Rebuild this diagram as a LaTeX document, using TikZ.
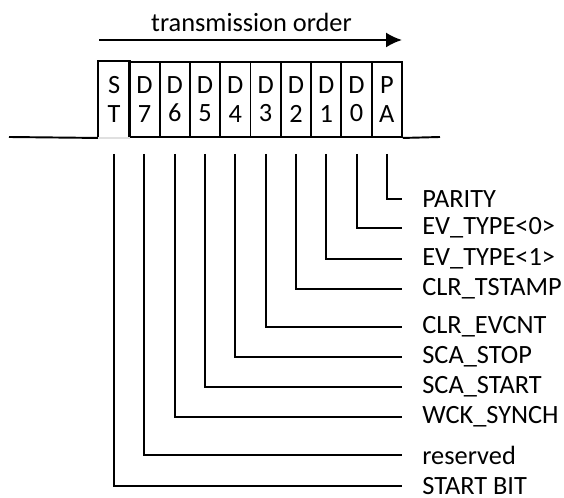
\documentclass[tikz,border=0pt]{standalone}
\usepackage{fontspec}
\setmainfont{Carlito}
\usetikzlibrary{arrows.meta}

\tikzset{
  bitbox/.style={draw, line width=1.1pt, minimum width=0.606cm, minimum height=1.5cm,
    inner sep=0pt, align=center, font=\fontsize{15}{16}\selectfont},
  bitlabel/.style={anchor=west, inner xsep=0.4cm, inner ysep=0pt, font=\fontsize{15}{16}\selectfont},
  wire/.style={line width=1.1pt}
}

\begin{document}
\begin{tikzpicture}
\useasboundingbox (0,0) rectangle (11.28,9.96);

% Transmission direction
\node[font=\fontsize{15}{16}\selectfont] (order) at (5.03,9.52) {transmission order};
\draw[wire, -{Latex[length=0.32cm,width=0.3cm]}] (1.98,9.16) -- (8.04,9.16);

% The frame: start bit, eight data bits and parity
\node[bitbox, draw=none] (st) at (2.283,7.97) {S\\T};
\node[bitbox] (d7) at (2.889,7.97) {D\\7};
\node[bitbox] (d6) at (3.495,7.97) {D\\6};
\node[bitbox] (d5) at (4.101,7.97) {D\\5};
\node[bitbox] (d4) at (4.707,7.97) {D\\4};
\node[bitbox] (d3) at (5.313,7.97) {D\\3};
\node[bitbox] (d2) at (5.919,7.97) {D\\2};
\node[bitbox] (d1) at (6.525,7.97) {D\\1};
\node[bitbox] (d0) at (7.131,7.97) {D\\0};
\node[bitbox] (pa) at (7.737,7.97) {P\\A};
\draw[wire] (st.south west) -- (st.north west) -- (st.north east) -- (st.south east);

% Line level before and after the frame
\draw[wire] (0.18,7.22) -- (st.south west);
\draw[line width=1.1pt, black!12] (st.south west) -- (st.south east);
\draw[wire] (pa.south east) -- (8.8,7.22);

% Bit meanings
\node[bitlabel] (parity) at (8.04,5.98) {PARITY};
\node[bitlabel] (evtype0) at (8.04,5.40) {EV\_TYPE<0>};
\node[bitlabel] (evtype1) at (8.04,4.78) {EV\_TYPE<1>};
\node[bitlabel] (clrtstamp) at (8.04,4.18) {CLR\_TSTAMP};
\node[bitlabel] (clrevcnt) at (8.04,3.42) {CLR\_EVCNT};
\node[bitlabel] (scastop) at (8.04,2.82) {SCA\_STOP};
\node[bitlabel] (scastart) at (8.04,2.22) {SCA\_START};
\node[bitlabel] (wcksynch) at (8.04,1.62) {WCK\_SYNCH};
\node[bitlabel] (reserved) at (8.04,0.86) {reserved};
\node[bitlabel] (startbit) at (8.04,0.24) {START BIT};

\draw[wire] ([yshift=-0.32cm]pa.south) |- (parity.west);
\draw[wire] ([yshift=-0.32cm]d0.south) |- (evtype0.west);
\draw[wire] ([yshift=-0.32cm]d1.south) |- (evtype1.west);
\draw[wire] ([yshift=-0.32cm]d2.south) |- (clrtstamp.west);
\draw[wire] ([yshift=-0.32cm]d3.south) |- (clrevcnt.west);
\draw[wire] ([yshift=-0.32cm]d4.south) |- (scastop.west);
\draw[wire] ([yshift=-0.32cm]d5.south) |- (scastart.west);
\draw[wire] ([yshift=-0.32cm]d6.south) |- (wcksynch.west);
\draw[wire] ([yshift=-0.32cm]d7.south) |- (reserved.west);
\draw[wire] ([yshift=-0.32cm]st.south) |- (startbit.west);
\end{tikzpicture}
\end{document}
